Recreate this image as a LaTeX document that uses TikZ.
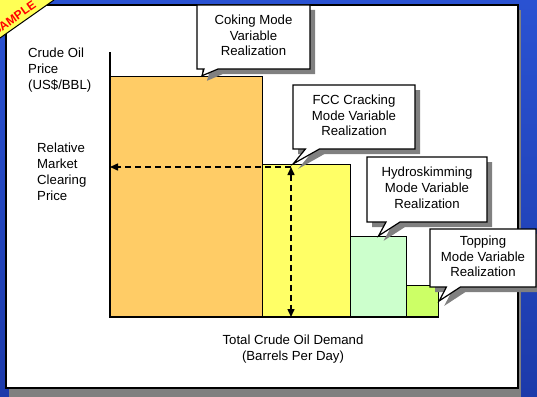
\documentclass[tikz,border=0pt]{standalone}
\usepackage{fontspec}
\setmainfont{Liberation Sans}
\usetikzlibrary{arrows.meta, calc, shapes.callouts, shadows}
\definecolor{bgtop}{RGB}{42,82,210}
\definecolor{bgbottom}{RGB}{28,58,170}
\definecolor{shadowgray}{RGB}{128,128,128}
\definecolor{cokefill}{RGB}{255,204,102}
\definecolor{fccfill}{RGB}{255,255,102}
\definecolor{hydrofill}{RGB}{204,255,204}
\definecolor{topfill}{RGB}{204,255,102}
\definecolor{stampfill}{RGB}{255,255,85}
% callout text, set a little left of the box centre
\newcommand{\notetext}[1]{\begin{tabular}{@{}c@{}}#1\end{tabular}\hspace{10pt}}

\begin{document}
\begin{tikzpicture}[x=1pt, y=-1pt,
    every node/.style={font=\fontsize{13.2}{15.8}\selectfont},
    bar/.style={draw, line width=1.2pt, inner sep=0pt, anchor=south west},
    note/.style={rectangle callout, draw, fill=white, line width=1.2pt,
      inner sep=0pt, callout pointer width=14pt,
      drop shadow={shadow xshift=5pt, shadow yshift=-5pt, fill=shadowgray, opacity=1}},
    axistext/.style={inner sep=0pt, align=left},
    dasharrow/.style={line width=1.5pt, dash pattern=on 6pt off 4pt}]
  \useasboundingbox (0,0) rectangle (537,396);
  % background and panel
  \shade[top color=bgtop, bottom color=bgbottom] (0,0) rectangle (537,396);
  \fill[shadowgray] (9,10) rectangle (521,400);
  \draw[fill=white, line width=1.5pt] (6,5) rectangle (518,388);

  % bars
  \node[bar, fill=cokefill, minimum width=152pt, minimum height=240pt] (coking) at (110,317) {};
  \node[bar, fill=fccfill, minimum width=88pt, minimum height=152pt] (fcc) at (262,317) {};
  \node[bar, fill=hydrofill, minimum width=56pt, minimum height=80pt] (hydro) at (350,317) {};
  \node[bar, fill=topfill, minimum width=32pt, minimum height=31pt] (topping) at (406,317) {};

  % axes
  \coordinate (ytop) at (110,52);
  \draw[line width=1.6pt] (ytop) -- (coking.south west) -- (topping.south east);

  % clearing price
  \coordinate (price) at (291,167);
  \draw[dasharrow, -{Triangle[length=8pt, width=7pt]}] (price) -- (price -| ytop);
  \draw[dasharrow, {Triangle[length=8pt, width=7pt]}-{Triangle[length=8pt, width=7pt]}]
    (price) -- (price |- fcc.south);

  % callouts
  \coordinate (cokeTip) at ($(coking.north west)!0.6!(coking.north east)$);
  \coordinate (fccTip) at ($(fcc.north west)!0.35!(fcc.north east)$);
  \node[note, minimum width=113pt, minimum height=64pt, callout absolute pointer={(cokeTip)}]
    (cokeNote) at (253.5,37) {\notetext{Coking Mode\\Variable\\Realization}};
  \node[note, minimum width=122pt, minimum height=64pt, callout absolute pointer={(fccTip)}]
    (fccNote) at (354,117) {\notetext{FCC Cracking\\Mode Variable\\Realization}};
  \node[note, minimum width=120pt, minimum height=65pt, callout absolute pointer={(hydro.north)}]
    (hydroNote) at (427,189.5) {\notetext{Hydroskimming\\Mode Variable\\Realization}};
  \node[note, minimum width=106pt, minimum height=58pt, callout absolute pointer={(topping.east)}]
    (topNote) at (483,258) {\notetext{Topping\\Mode Variable\\Realization}};

  % axis texts
  \node[axistext, anchor=north west] (priceTitle) at (28,48) {Crude Oil\\Price\\(US\$/BBL)};
  \node[axistext, anchor=north west] (clearTitle) at (37,143) {Relative\\Market\\Clearing\\Price};
  \node[axistext, align=center, anchor=north] (demandTitle) at (293,335)
    {Total Crude Oil Demand\\(Barrels Per Day)};

  % stamp
  \begin{scope}
    \clip (0,0) rectangle (537,396);
    \fill[stampfill] (0,0) -- (54,0) -- (0,38) -- cycle;
    \draw[line width=1pt] (54,0) -- (0,38);
    \node[rotate=35, text=red, inner sep=0pt, font=\bfseries\fontsize{12}{13}\selectfont]
      (stamp) at (14,18) {SAMPLE};
  \end{scope}
\end{tikzpicture}
\end{document}
